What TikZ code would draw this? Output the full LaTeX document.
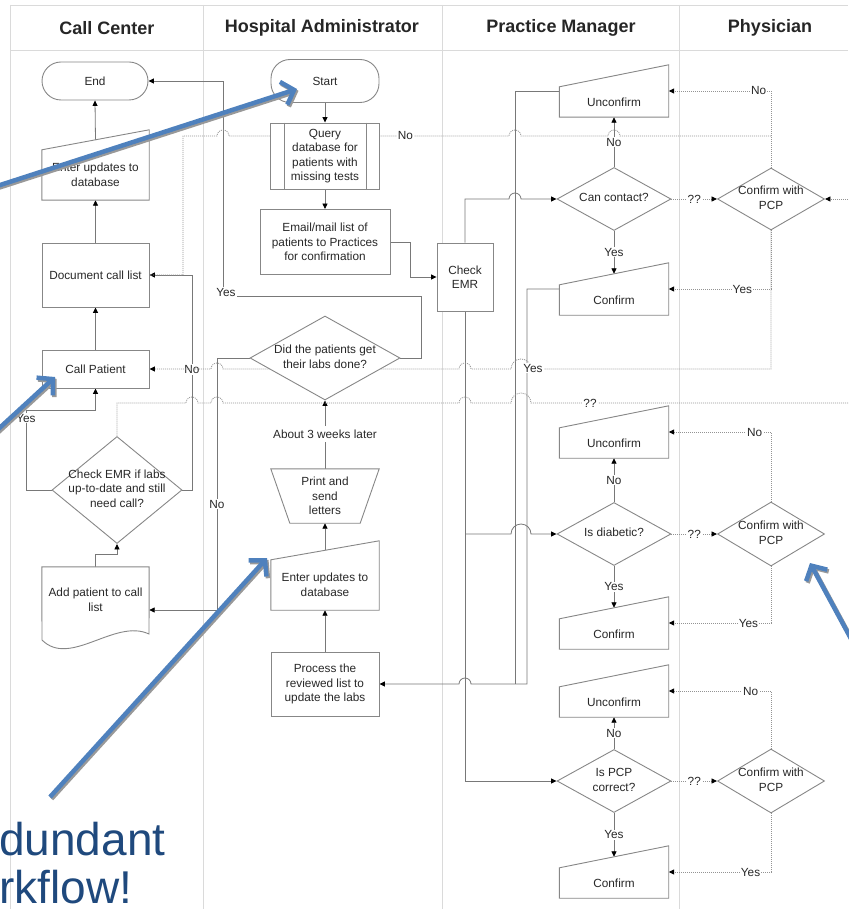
\documentclass[tikz,border=0pt]{standalone}
\usepackage{fontspec}
\setmainfont{Liberation Sans}
\usetikzlibrary{arrows.meta,shapes.geometric,backgrounds}

\definecolor{lanegray}{RGB}{218,218,218}
\definecolor{shapegray}{RGB}{135,135,135}
\definecolor{linegray}{RGB}{120,120,120}
\definecolor{txtgray}{RGB}{40,40,40}
\definecolor{noteblue}{RGB}{79,129,189}
\definecolor{titleblue}{RGB}{31,73,125}

% text inside a diamond, not counted in its size
\newcommand{\dtxt}[1]{\makebox[0pt]{\begin{tabular}{@{}c@{}}#1\end{tabular}}}
% manual input outline (slanted top) round a node
\newcommand{\manin}[2]{\draw[outline] (#1.north west) -- ([yshift=#2]#1.north east) -- (#1.south east) -- (#1.south west) -- cycle;}

\begin{document}
\begin{tikzpicture}[x=1pt,y=-1pt,
  every node/.style={font=\fontsize{11.8}{14.5}\selectfont, text=txtgray, align=center},
  lane/.style={draw=lanegray, line width=0.8pt},
  head/.style={font=\fontsize{18}{20}\selectfont\bfseries, text=black!85},
  outline/.style={draw=shapegray, fill=white, line width=0.9pt},
  box/.style={outline, inner sep=1pt},
  term/.style={box, rounded corners=19pt},
  ghost/.style={inner sep=1pt},
  maninput/.style={ghost, minimum width=109pt, minimum height=30pt},
  decision/.style={diamond, outline, inner sep=0pt},
  lbl/.style={fill=white, inner sep=1pt},
  plain/.style={draw=linegray, line width=0.8pt},
  flow/.style={plain, -{Triangle[length=5.5pt,width=5pt,color=black]}},
  dots/.style={draw=linegray!80, line width=0.8pt, dash pattern=on 1pt off 1pt},
  dotflow/.style={dots, -{Triangle[length=5.5pt,width=5pt,color=black]}},
  note/.style={draw=noteblue, line width=4.5pt, -{Straight Barb[length=11pt,width=24pt]}},
  noteshadow/.style={note, draw=black!40},
  slogan/.style={font=\fontsize{46}{50}\selectfont, text=titleblue, anchor=base west, inner sep=0pt}
]
  \useasboundingbox (0,0) rectangle (848,909);

  % headers
  \node[head] (hcc) at (107,28) {Call Center};
  \node[head] (hha) at (322,28) {Hospital Administrator};
  \node[head] (hpm) at (561,28) {Practice Manager};
  \node[head] (hph) at (770,28) {Physician};

  % Call Center
  \node[term, minimum width=106pt, minimum height=38pt] (end) at (95,81) {End};
  \node[ghost, minimum width=107pt, minimum height=50pt] (ccupd) at (95.5,175) {};
  \manin{ccupd}{20pt}
  \node (ccupdt) at (95.5,175) {Enter updates to\\database};
  \node[box, minimum width=107pt, minimum height=64pt] (doclist) at (95.5,275) {Document call list};
  \node[box, minimum width=107pt, minimum height=38pt] (callpat) at (95.5,369) {Call Patient};
  \node[decision, minimum width=130pt, minimum height=107pt] (chkemr) at (117,490)
    {\dtxt{Check EMR if labs\\up-to-date and still\\need call?}};
  \node[ghost, minimum width=107pt, minimum height=66pt] (addpat) at (95.5,600) {};
  \draw[outline] (addpat.north west) -- (addpat.north east) -- (149,634)
    .. controls (115,618) and (70,668) .. (42,640) -- cycle;
  \node (addpatt) at (95.5,600) {Add patient to call\\list};

  % Hospital Administrator
  \node[term, minimum width=108pt, minimum height=43pt] (start) at (325,81) {Start};
  \node[box, minimum width=109pt, minimum height=66pt] (query) at (325,156)
    {Query\\database for\\patients with\\missing tests};
  \draw[outline, fill=none] ([xshift=14pt]query.north west) -- ([xshift=14pt]query.south west)
    ([xshift=-14pt]query.north east) -- ([xshift=-14pt]query.south east);
  \node[box, minimum width=130pt, minimum height=65pt] (email) at (325,242)
    {Email/mail list of\\patients to Practices\\for confirmation};
  \node[decision, minimum width=150pt, minimum height=84pt] (labs) at (325,358)
    {\dtxt{Did the patients get\\their labs done?}};
  \node (weeks) at (325,434) {About 3 weeks later};
  \node[ghost, minimum width=108pt, minimum height=54pt] (print) at (325,496) {};
  \draw[outline] (print.north west) -- (print.north east) -- ([xshift=-19pt]print.south east)
    -- ([xshift=19pt]print.south west) -- cycle;
  \node (printt) at (325,496) {Print and\\send\\letters};
  \node[ghost, minimum width=108pt, minimum height=50pt] (haupd) at (325,585) {};
  \manin{haupd}{19pt}
  \node (haupdt) at (325,585) {Enter updates to\\database};
  \node[box, minimum width=108pt, minimum height=64pt] (process) at (325,684)
    {Process the\\reviewed list to\\update the labs};

  % Practice Manager
  \node[box, minimum width=56pt, minimum height=68pt] (chk) at (465,277) {Check\\EMR};
  \node[maninput] (unc1) at (614,102) {};
  \node[maninput] (con1) at (614,300) {};
  \node[maninput] (unc2) at (614,443) {};
  \node[maninput] (con2) at (614,634) {};
  \node[maninput] (unc3) at (614,702) {};
  \node[maninput] (con3) at (614,883) {};
  \foreach \n in {unc1,unc2,unc3} {\manin{\n}{22pt} \node at (\n) {Unconfirm};}
  \foreach \n in {con1,con2,con3} {\manin{\n}{22pt} \node at (\n) {Confirm};}
  \node[decision, minimum width=114pt, minimum height=63pt] (can) at (614,199) {\dtxt{Can contact?}};
  \node[decision, minimum width=114pt, minimum height=63pt] (dia) at (614,534) {\dtxt{Is diabetic?}};
  \node[decision, minimum width=114pt, minimum height=63pt] (pcp) at (614,781) {\dtxt{Is PCP\\correct?}};

  % Physician
  \node[decision, minimum width=107pt, minimum height=62pt] (pcp1) at (771,199) {\dtxt{Confirm with\\PCP}};
  \node[decision, minimum width=107pt, minimum height=64pt] (pcp2) at (771,534) {\dtxt{Confirm with\\PCP}};
  \node[decision, minimum width=107pt, minimum height=64pt] (pcp3) at (771,781) {\dtxt{Confirm with\\PCP}};

  \coordinate (offr1) at (850,199);
  \coordinate (offr2) at (850,403);

  \begin{scope}[on background layer]
    % lanes
    \draw[lane] (10,5) -- (848,5);
    \draw[lane] (10,50) -- (848,50);
    \foreach \x in {10,203,442,679} \draw[lane] (\x,5) -- (\x,909);

    % call center flow
    \draw[flow] ([yshift=10pt]ccupd.north) -- (end.south);
    \draw[flow] (doclist) -- (ccupd.south);
    \draw[flow] (callpat) -- (doclist);
    \draw[flow] (addpat.north) -- ++(0,-12) -| (chkemr.south);
    \draw[flow] (chkemr.west) -| (26,410) node[lbl, pos=0.95] (lyes2) {Yes} -| (callpat.south);
    \draw[flow] (chkemr.east) -| (192,275) node[lbl, pos=0.78] (lno2) {No} -- (doclist.east);

    % hospital administrator flow
    \draw[flow] (start) -- (query);
    \draw[flow] (query) -- (email);
    \draw[flow] (email.east) -- ++(20,0) |- (chk.west);
    \draw[flow] (process) -- (haupd);
    \draw[flow] ([yshift=10pt]haupd.north) -- (print.south);
    \draw[plain] (print.north) -- (weeks.south);
    \draw[flow] (weeks.north) -- (labs.south);
    \draw[flow] (labs.east) -- ++(21,0) |- (223,296)
      node[lbl, xshift=3pt, yshift=4pt] (lyes1) {Yes} |- (end.east);
    \draw[flow] (labs.west) -| (217,610) node[lbl, pos=0.79] (lno1) {No}
      -- ([yshift=-10pt]addpat.east);

    % practice manager flow
    \draw[flow] (chk.north) |- (509,199) arc[start angle=180,end angle=0,radius=6pt] -- (can.west);
    \draw[flow] (chk.south) |- (pcp.west);
    \draw[flow] (chk.south |- dia.west) -- (511,534) arc[start angle=180,end angle=0,radius=10pt]
      -- (dia.west);
    \draw[plain] ([yshift=11pt]unc1.west) -| (515,684);
    \draw[flow] ([yshift=11pt]con1.west) -| (527,684) -- (471,684)
      arc[start angle=0,end angle=180,radius=6pt] -- (process.east);
    \draw[flow] (can.north) -- node[lbl] (lno3) {No} (unc1.south);
    \draw[flow] (can.south) -- node[lbl] (lyes3) {Yes} ([yshift=11pt]con1.north);
    \draw[flow] (dia.north) -- node[lbl] (lno4) {No} (unc2.south);
    \draw[flow] (dia.south) -- node[lbl] (lyes4) {Yes} ([yshift=11pt]con2.north);
    \draw[flow] (pcp.north) -- node[lbl] (lno5) {No} (unc3.south);
    \draw[flow] (pcp.south) -- node[lbl] (lyes5) {Yes} ([yshift=11pt]con3.north);

    % physician flow (dotted)
    \draw[dotflow] (can.east) -- node[lbl] (lq1) {??} (pcp1.west);
    \draw[dotflow] (dia.east) -- node[lbl] (lq2) {??} (pcp2.west);
    \draw[dotflow] (pcp.east) -- node[lbl] (lq3) {??} (pcp3.west);
    \draw[dotflow] (offr1) -- (pcp1.east);
    \draw[dotflow] (pcp1.north) |- node[lbl, pos=0.56] (lno6) {No} ([yshift=11pt]unc1.east);
    \draw[dotflow] (pcp1.south) |- node[lbl, pos=0.64] (lyes6) {Yes} ([yshift=11pt]con1.east);
    \draw[dotflow] (pcp2.north) |- node[lbl, pos=0.58] (lno7) {No} ([yshift=11pt]unc2.east);
    \draw[dotflow] (pcp2.south) |- node[lbl, pos=0.61] (lyes7) {Yes} ([yshift=11pt]con2.east);
    \draw[dotflow] (pcp3.north) |- node[lbl, pos=0.6] (lno8) {No} ([yshift=11pt]unc3.east);
    \draw[dotflow] (pcp3.south) |- node[lbl, pos=0.6] (lyes8) {Yes} ([yshift=11pt]con3.east);

    % long dotted returns
    \draw[dots] (pcp1.north |- 0,136) -- (620,136) arc[start angle=0,end angle=180,radius=6pt]
      -- (521,136) arc[start angle=0,end angle=180,radius=6pt]
      -- node[lbl, pos=0.37] (lno9) {No} (229,136) arc[start angle=0,end angle=180,radius=6pt]
      -- (183,136) |- (doclist.east);
    \draw[dotflow] (pcp1.south) |- (531,369) arc[start angle=0,end angle=180,radius=10pt]
      -- (471,369) arc[start angle=0,end angle=180,radius=6pt]
      -- (223,369) arc[start angle=0,end angle=180,radius=6pt] -- (callpat.east);
    \node[lbl] (lyes9) at (533,368) {Yes};
    \draw[dots] (offr2) -- node[lbl, pos=0.815] (lq4) {??} (531,403)
      arc[start angle=0,end angle=180,radius=10pt]
      -- (471,403) arc[start angle=0,end angle=180,radius=6pt]
      -- (223,403) arc[start angle=0,end angle=180,radius=6pt]
      -- (198,403) arc[start angle=0,end angle=180,radius=6pt]
      -- (117,403) -- (chkemr.north);
  \end{scope}

  % annotation arrows, with a grey shadow under each
  \coordinate (n1s) at (-6,187);  \coordinate (n1e) at (297,89);
  \coordinate (n2s) at (-6,433);  \coordinate (n2e) at (55,377);
  \coordinate (n3s) at (50,797);  \coordinate (n3e) at (267,558);
  \coordinate (n4s) at (856,648); \coordinate (n4e) at (810,563);
  \foreach \s/\e in {n1s/n1e,n2s/n2e,n3s/n3e,n4s/n4e} {
    \draw[noteshadow] ([xshift=1.5pt,yshift=-1.8pt]\s) -- ([xshift=1.5pt,yshift=-1.8pt]\e);
    \draw[note] (\s) -- (\e);
  }

  \node[slogan] (slog1) at (-1,855) {dundant};
  \node[slogan] (slog2) at (-1,903) {rkflow!};
\end{tikzpicture}
\end{document}
